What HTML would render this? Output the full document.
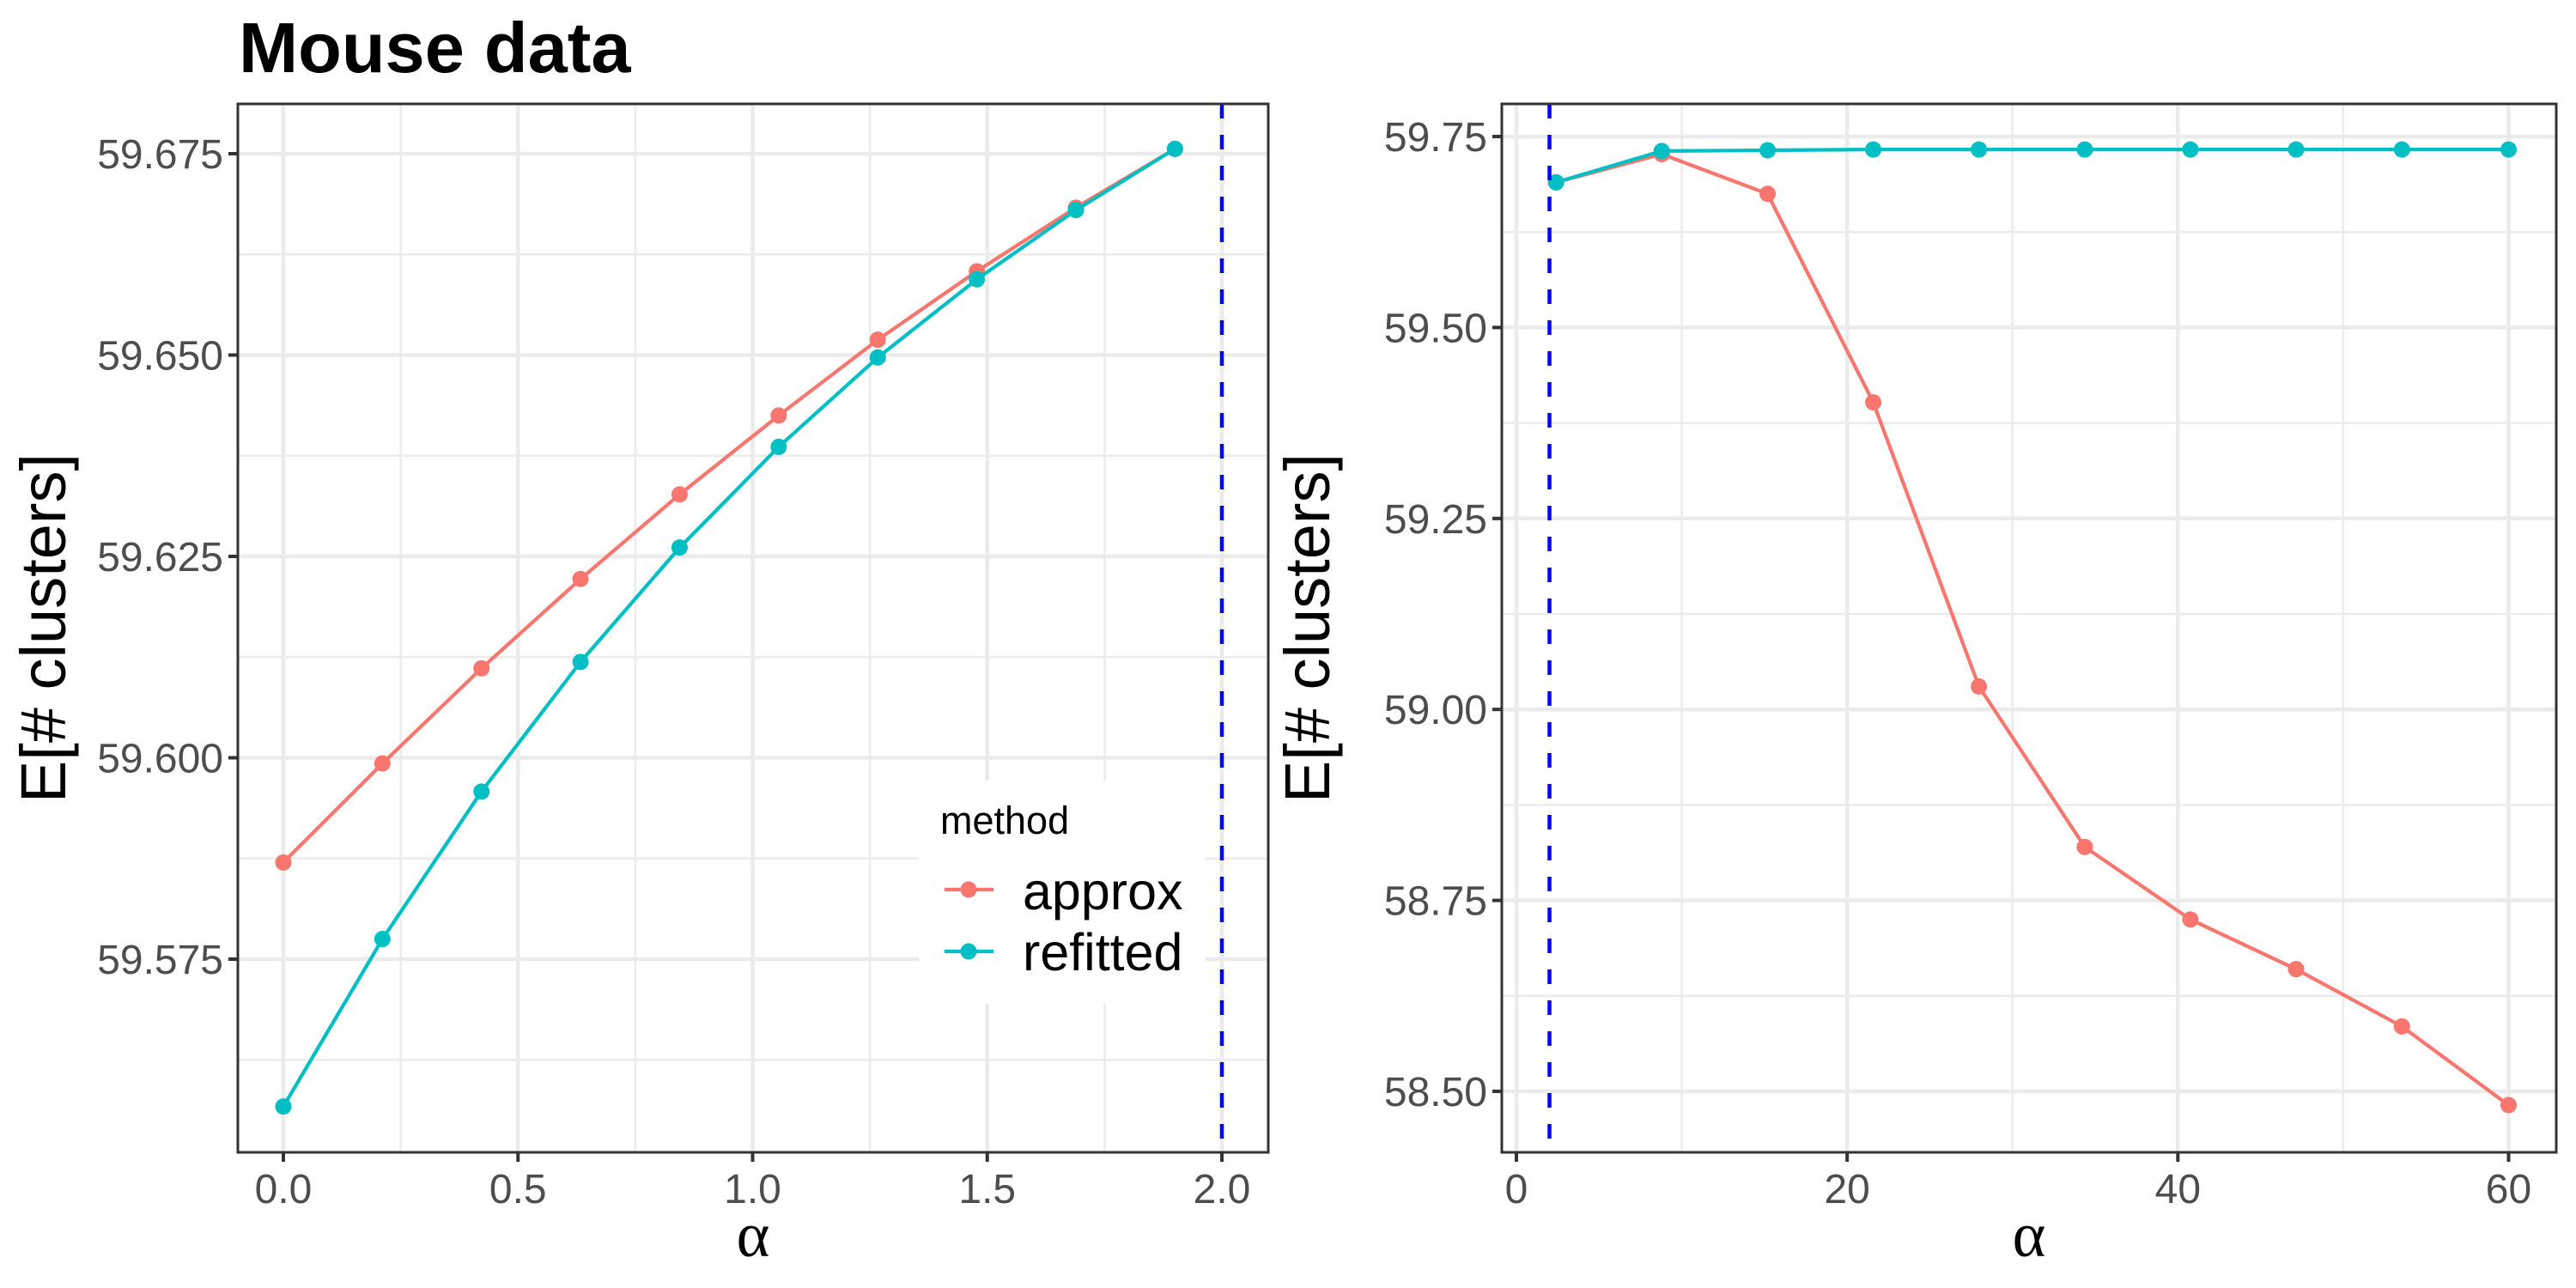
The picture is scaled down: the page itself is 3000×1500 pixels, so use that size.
<!DOCTYPE html>
<html><head><meta charset="utf-8"><style>
html,body{margin:0;padding:0;background:#fff;}
svg{display:block;font-family:"Liberation Sans",sans-serif;}
</style></head><body>
<svg id="chart" width="3000" height="1500" viewBox="0 0 3000 1500" xmlns="http://www.w3.org/2000/svg">
<text x="278" y="84" font-size="83" font-weight="bold" fill="#000">Mouse data</text>
<g id="left"></g>
<g id="right"></g>
<g id="legend">
  <rect x="1070" y="909" width="334" height="260" fill="#fff"/>
  <text x="1095" y="971" font-size="45" fill="#000">method</text>
  <g>
    <line x1="1100" x2="1157" y1="1036" y2="1036" stroke="#F8766D" stroke-width="4.2"/>
    <circle cx="1128" cy="1036" r="9.5" fill="#F8766D"/>
    <text x="1191" y="1059" font-size="61" fill="#000">approx</text>
  </g>
  <g>
    <line x1="1100" x2="1157" y1="1108" y2="1108" stroke="#00BFC4" stroke-width="4.2"/>
    <circle cx="1128" cy="1108" r="9.5" fill="#00BFC4"/>
    <text x="1191" y="1130" font-size="61" fill="#000">refitted</text>
  </g>
</g>
</svg>
<script>
const leftAlpha = [0, 0.2111, 0.4222, 0.6333, 0.8444, 1.0556, 1.2667, 1.4778, 1.6889, 1.9];
const leftApprox = [59.5870, 59.5993, 59.6111, 59.6222, 59.6327, 59.6425, 59.6519, 59.6604, 59.6683, 59.6756];
const leftRefitted = [59.5567, 59.5775, 59.5958, 59.6119, 59.6261, 59.6386, 59.6497, 59.6594, 59.6680, 59.6756];
const leftXTicks = [0, 0.5, 1.0, 1.5, 2.0];
const leftXTickLabels = ["0.0", "0.5", "1.0", "1.5", "2.0"];
const leftYTicks = [59.575, 59.600, 59.625, 59.650, 59.675];
const leftYTickLabels = ["59.575", "59.600", "59.625", "59.650", "59.675"];
const leftXMinor = [0.25, 0.75, 1.25, 1.75];
const leftYMinor = [59.5625, 59.5875, 59.6125, 59.6375, 59.6625];
const leftVLine = [2.0];

const rightAlpha = [2.4, 8.79, 15.19, 21.58, 27.97, 34.37, 40.76, 47.15, 53.55, 60];
const rightApprox = [59.69, 59.727, 59.675, 59.402, 59.03, 58.82, 58.725, 58.66, 58.585, 58.482];
const rightRefitted = [59.69, 59.731, 59.732, 59.733, 59.733, 59.733, 59.733, 59.733, 59.733, 59.733];
const rightXTicks = [0, 20, 40, 60];
const rightXTickLabels = ["0", "20", "40", "60"];
const rightYTicks = [58.50, 58.75, 59.00, 59.25, 59.50, 59.75];
const rightYTickLabels = ["58.50", "58.75", "59.00", "59.25", "59.50", "59.75"];
const rightXMinor = [10, 30, 50];
const rightYMinor = [58.625, 58.875, 59.125, 59.375, 59.625];
const rightVLine = [2.0];

const NS = "http://www.w3.org/2000/svg";
function mk(tag, attrs, parent) {
  const e = document.createElementNS(NS, tag);
  for (const k in attrs) e.setAttribute(k, attrs[k]);
  parent.appendChild(e);
  return e;
}
function lin(d0, d1, r0, r1) { return v => r0 + (v - d0) / (d1 - d0) * (r1 - r0); }

function drawPanel(g, P, opt) {
  const xs = lin(opt.xd[0], opt.xd[1], opt.xr[0], opt.xr[1]);
  const ys = lin(opt.yd[0], opt.yd[1], opt.yr[0], opt.yr[1]);
  opt.yMinor.forEach(v => {
    const l = mk('line', {x1: P.x0, x2: P.x1, y1: ys(v), y2: ys(v), stroke: '#ebebeb', 'stroke-width': 2.5}, g);
    
    
  });
  opt.xMinor.forEach(v => {
    const l = mk('line', {x1: xs(v), x2: xs(v), y1: P.y0, y2: P.y1, stroke: '#ebebeb', 'stroke-width': 2.5}, g);
    
    
  });
  opt.yTicks.forEach(v => {
    const l = mk('line', {x1: P.x0, x2: P.x1, y1: ys(v), y2: ys(v), stroke: '#ebebeb', 'stroke-width': 4.5}, g);
    
    
  });
  opt.xTicks.forEach(v => {
    const l = mk('line', {x1: xs(v), x2: xs(v), y1: P.y0, y2: P.y1, stroke: '#ebebeb', 'stroke-width': 4.5}, g);
    
    
  });
  const series = [[opt.approx, '#F8766D', 'approx'], [opt.refit, '#00BFC4', 'refitted']];
  series.forEach(([vals, col, nm]) => {
    const pts = opt.alpha.map((a, i) => xs(a).toFixed(1) + ',' + ys(vals[i]).toFixed(1)).join(' ');
    const pl = mk('polyline', {points: pts, fill: 'none', stroke: col, 'stroke-width': 4.2}, g);
    
    
    opt.alpha.forEach((a, i) => {
      const c = mk('circle', {cx: xs(a), cy: ys(vals[i]), r: 9.5, fill: col}, g);
      
      
    });
  });
  opt.vline.forEach(v => {
    const l = mk('line', {x1: xs(v), x2: xs(v), y1: P.y0, y2: P.y1, stroke: '#0000FF', 'stroke-width': 4.5, 'stroke-dasharray': '17 19'}, g);
    
    
  });
  const b = mk('rect', {x: P.x0, y: P.y0, width: P.x1 - P.x0, height: P.y1 - P.y0, fill: 'none', stroke: '#333333', 'stroke-width': 3}, g);
  
  
  opt.xTicks.forEach((v, i) => {
    const t = mk('line', {x1: xs(v), x2: xs(v), y1: P.y1, y2: P.y1 + 11, stroke: '#333333', 'stroke-width': 4}, g);
    
    
    const lb = mk('text', {x: xs(v), y: 1401, 'font-size': 48, fill: '#4D4D4D', 'text-anchor': 'middle'}, g);
    lb.textContent = opt.xLabels[i];
    
    
  });
  opt.yTicks.forEach((v, i) => {
    const t = mk('line', {x1: P.x0 - 11, x2: P.x0, y1: ys(v), y2: ys(v), stroke: '#333333', 'stroke-width': 4}, g);
    
    
    const lb = mk('text', {x: P.x0 - 17, y: ys(v) + 17, 'font-size': 48, fill: '#4D4D4D', 'text-anchor': 'end'}, g);
    lb.textContent = opt.yLabels[i];
    
    
  });
  const xt = mk('text', {x: (P.x0 + P.x1) / 2, y: 1463, 'font-size': 74, 'text-anchor': 'middle', fill: '#000', 'font-family': '"Liberation Serif", serif'}, g);
  xt.textContent = 'α';
  
  
  const cy = (P.y0 + P.y1) / 2;
  const yt = mk('text', {x: opt.ytx, y: cy, 'font-size': 74, 'text-anchor': 'middle', fill: '#000', transform: 'rotate(-90 ' + opt.ytx + ' ' + cy + ')'}, g);
  yt.textContent = 'E[# clusters]';
  
  
}

drawPanel(document.getElementById('left'), {x0: 277, x1: 1477, y0: 121, y1: 1342}, {
  xd: [0, 2], xr: [330, 1423], yd: [59.575, 59.675], yr: [1117, 179],
  alpha: leftAlpha, approx: leftApprox, refit: leftRefitted,
  xTicks: leftXTicks, xLabels: leftXTickLabels, yTicks: leftYTicks, yLabels: leftYTickLabels,
  xMinor: leftXMinor, yMinor: leftYMinor, vline: leftVLine, ytx: 76
});
drawPanel(document.getElementById('right'), {x0: 1749, x1: 2977, y0: 121, y1: 1342}, {
  xd: [0, 60], xr: [1766, 2921.5], yd: [58.5, 59.75], yr: [1271, 159],
  alpha: rightAlpha, approx: rightApprox, refit: rightRefitted,
  xTicks: rightXTicks, xLabels: rightXTickLabels, yTicks: rightYTicks, yLabels: rightYTickLabels,
  xMinor: rightXMinor, yMinor: rightYMinor, vline: rightVLine, ytx: 1548
});
</script>
</body></html>
